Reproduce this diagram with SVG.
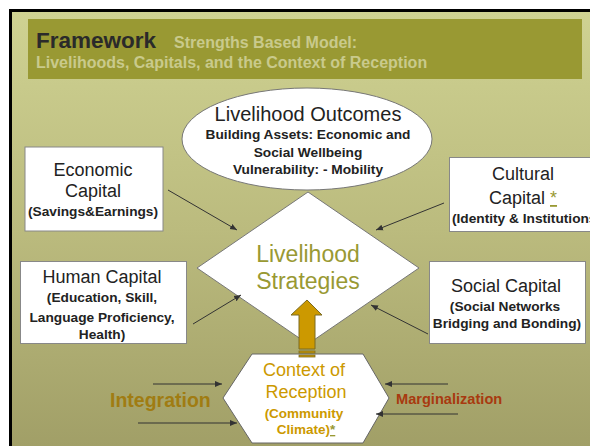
<svg xmlns="http://www.w3.org/2000/svg" width="590" height="446" viewBox="0 0 590 446">
<defs>
<linearGradient id="bg" x1="0" y1="0" x2="0" y2="1">
<stop offset="0" stop-color="#cfd292"/>
<stop offset="0.5" stop-color="#bbbb7e"/>
<stop offset="1" stop-color="#a19f67"/>
</linearGradient>
<marker id="ah" markerWidth="8" markerHeight="8" refX="7" refY="4" orient="auto" markerUnits="userSpaceOnUse">
<path d="M0,1 L7,4 L0,7 Z" fill="#333"/>
</marker>
<style>
text{font-family:"Liberation Sans",Arial,sans-serif;}
.box{fill:#fff;stroke:#888;stroke-width:1;}
.big{font-size:18px;fill:#222;text-anchor:middle;}
.sm{font-size:13.7px;font-weight:bold;fill:#222;text-anchor:middle;}
.start{text-anchor:start;}
.conn{stroke:#333;stroke-width:1;fill:none;marker-end:url(#ah);}
.gold{fill:#cc9900;}
.star{fill:#999933;text-decoration:underline;}
</style>
</defs>
<rect x="0" y="0" width="590" height="446" fill="#fff"/>
<rect x="11" y="11" width="580" height="436" fill="url(#bg)"/>
<path d="M10.5,446 L10.5,10.5 L590,10.5" fill="none" stroke="#000" stroke-width="3"/>

<g id="header">
<rect x="28" y="19" width="554" height="60" fill="#999933"/>
<text x="36" y="48" font-size="22.5" font-weight="bold" fill="#2a2a2a">Framework</text>
<text x="174" y="48" font-size="16" font-weight="bold" fill="#c9ca8c">Strengths Based Model:</text>
<text x="36" y="68" font-size="16" font-weight="bold" fill="#c9ca8c">Livelihoods, Capitals, and the Context of Reception</text>
</g>

<g id="outcomes">
<ellipse cx="307" cy="139" rx="125" ry="51" fill="#fff" stroke="#777"/>
<text x="308" y="121" font-size="20" fill="#222" text-anchor="middle">Livelihood Outcomes</text>
<text x="308" y="139" class="sm" font-size="13.4">Building Assets: Economic and</text>
<text x="308" y="157" class="sm" font-size="13.4">Social Wellbeing</text>
<text x="308" y="174" class="sm" font-size="13.4">Vulnerability: - Mobility</text>
</g>

<g id="economic">
<rect class="box" x="25" y="147" width="138" height="84"/>
<text class="big" x="93" y="176">Economic</text>
<text class="big" x="93" y="197">Capital</text>
<text class="sm" x="93" y="216">(Savings&amp;Earnings)</text>
</g>

<g id="human">
<rect class="box" x="20.5" y="261.5" width="166" height="82"/>
<text class="big" x="102" y="283">Human Capital</text>
<text class="sm" x="102" y="302">(Education, Skill,</text>
<text class="sm" x="102" y="322">Language Proficiency,</text>
<text class="sm" x="102" y="339">Health)</text>
</g>

<g id="cultural">
<rect class="box" x="449.5" y="157.5" width="150" height="74"/>
<text class="big" x="523" y="180">Cultural</text>
<text class="big" x="523" y="204">Capital <tspan class="star">*</tspan></text>
<text class="sm start" x="452" y="223">(Identity &amp; Institutions)</text>
</g>

<g id="social">
<rect class="box" x="429.5" y="261.5" width="156" height="82"/>
<text class="big" x="506" y="292">Social Capital</text>
<text class="sm" x="505" y="311">(Social Networks</text>
<text class="sm" x="507" y="328">Bridging and Bonding)</text>
</g>

<g id="strategies">
<polygon points="308,192 419,268 308,344 197,268" fill="#fff" stroke="#777"/>
<text x="308" y="262" font-size="23" fill="#999933" text-anchor="middle">Livelihood</text>
<text x="308" y="289" font-size="23" fill="#999933" text-anchor="middle">Strategies</text>
</g>

<g id="context">
<polygon points="252,354 363,354 389,398 363,443 252,443 223,398" fill="#fff" stroke="#666"/>
<text class="gold" x="304" y="376" font-size="18" text-anchor="middle">Context of</text>
<text class="gold" x="306" y="398" font-size="18" text-anchor="middle">Reception</text>
<text class="gold" x="304" y="418" font-size="13.5" font-weight="bold" text-anchor="middle">(Community</text>
<text class="gold" x="306" y="434" font-size="13.5" font-weight="bold" text-anchor="middle">Climate)<tspan class="star">*</tspan></text>
</g>

<g id="uparrow">
<polygon points="307,300 322,315 315,315 315,349 299,349 299,315 291,315" fill="#cc9900" stroke="#7a6a22"/>
<rect x="299" y="351" width="16" height="2" fill="#cc9900" stroke="#7a6a22" stroke-width="0.8"/>
<rect x="299" y="355" width="16" height="2" fill="#cc9900" stroke="#7a6a22" stroke-width="0.8"/>
</g>

<g id="integration">
<text x="110" y="407" font-size="19.5" font-weight="bold" fill="#a07c12">Integration</text>
</g>
<g id="marginalization">
<text x="396" y="404" font-size="14.6" font-weight="bold" fill="#a83a10">Marginalization</text>
</g>

<g id="connectors">
<line class="conn" x1="168" y1="190" x2="237" y2="230"/>
<line class="conn" x1="193" y1="324" x2="241" y2="295"/>
<line class="conn" x1="444" y1="203" x2="376" y2="230"/>
<line class="conn" x1="428" y1="334" x2="371" y2="305"/>
<line class="conn" x1="153" y1="384" x2="222" y2="384"/>
<line class="conn" x1="138" y1="423" x2="237" y2="423"/>
<line class="conn" x1="448" y1="384" x2="385" y2="384"/>
<line class="conn" x1="458" y1="414" x2="376" y2="414"/>
</g>
</svg>
